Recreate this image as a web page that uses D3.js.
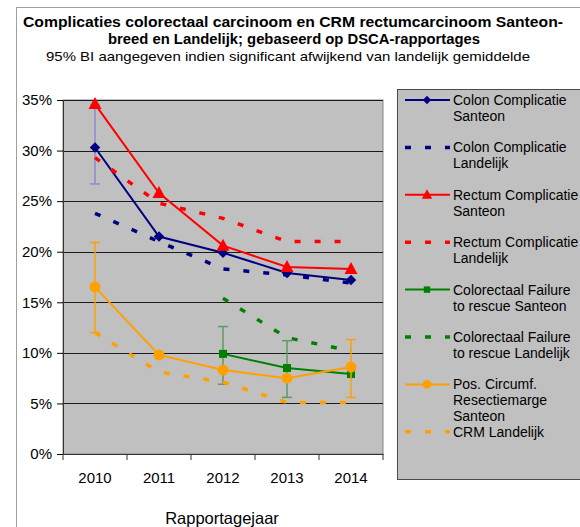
<!DOCTYPE html>
<html>
<head>
<meta charset="utf-8">
<script src="https://cdn.jsdelivr.net/npm/d3@7"></script>
<style>
  body { margin: 0; background: #fff; }
  svg { font-family: "Liberation Sans", Arial, sans-serif; }
</style>
</head>
<body>
<svg id="chart" width="580" height="527"></svg>
<script>
// values in percent
const years = ['2010', '2011', '2012', '2013', '2014'];
const yTicks = [0, 5, 10, 15, 20, 25, 30, 35];

const colonSanteon = [30.3, 21.5, 19.9, 17.9, 17.2];
const colonLandelijk = [23.8, 21.0, 18.3, 17.7, 16.9];
const rectumSanteon = [34.6, 25.8, 20.6, 18.5, 18.3];
const rectumLandelijk = [29.3, 24.8, 23.3, 21.0, 21.0];
const ftrSanteon = [null, null, 9.9, 8.5, 7.9];
const ftrLandelijk = [null, null, 15.4, 11.5, 10.2];
const crmSanteon = [16.5, 9.8, 8.3, 7.5, 8.6];
const crmLandelijk = [12.0, 8.1, 7.1, 5.1, 5.1];

// 95% BI, only where significant
const colonSanteonCI = [[26.7, 34.5], null, null, null, null];
const ftrSanteonCI = [null, null, [6.9, 12.6], [5.6, 11.2], null];
const crmSanteonCI = [[12.0, 20.9], null, null, null, [5.6, 11.3]];

const series = [
  {name: ['Colon Complicatie', 'Santeon'], values: colonSanteon, color: '#000080', marker: 'diamond', ci: colonSanteonCI, ciColor: '#8c8cc8'},
  {name: ['Colon Complicatie', 'Landelijk'], values: colonLandelijk, color: '#000080', dashed: true},
  {name: ['Rectum Complicatie', 'Santeon'], values: rectumSanteon, color: '#ff0000', marker: 'triangle'},
  {name: ['Rectum Complicatie', 'Landelijk'], values: rectumLandelijk, color: '#ff0000', dashed: true},
  {name: ['Colorectaal Failure', 'to rescue Santeon'], values: ftrSanteon, color: '#008000', marker: 'square', ci: ftrSanteonCI, ciColor: '#5f9a5f'},
  {name: ['Colorectaal Failure', 'to rescue Landelijk'], values: ftrLandelijk, color: '#008000', dashed: true},
  {name: ['Pos. Circumf.', 'Resectiemarge', 'Santeon'], values: crmSanteon, color: '#ffa000', marker: 'circle', ci: crmSanteonCI, ciColor: '#ffa000'},
  {name: ['CRM Landelijk'], values: crmLandelijk, color: '#ffa000', dashed: true}
];

const svg = d3.select('#chart');
const plot = {left: 63, top: 100, right: 383, bottom: 454};

// outer chart frame
svg.append('rect')
  .attr('x', 16.5).attr('y', 7.5)
  .attr('width', 600).attr('height', 600)
  .attr('fill', '#fff').attr('stroke', '#a0a0a0');

// titles
const title = svg.append('text').attr('text-anchor', 'middle')
  .style('font-weight', 'bold').style('font-size', '14.5px');
title.append('tspan').attr('x', 293).attr('y', 27)
  .attr('textLength', 540).attr('lengthAdjust', 'spacingAndGlyphs')
  .text('Complicaties colorectaal carcinoom en CRM rectumcarcinoom  Santeon-');
title.append('tspan').attr('x', 294).attr('y', 44)
  .attr('textLength', 372).attr('lengthAdjust', 'spacingAndGlyphs')
  .text('breed en Landelijk; gebaseerd op DSCA-rapportages');
svg.append('text').attr('x', 288).attr('y', 61).attr('text-anchor', 'middle')
  .attr('textLength', 484).attr('lengthAdjust', 'spacingAndGlyphs')
  .style('font-size', '13.5px').text('95% BI aangegeven indien significant afwijkend van landelijk gemiddelde');

const x = d3.scaleBand().domain(years).range([plot.left, plot.right]);
const y = d3.scaleLinear().domain([0, 35]).range([plot.bottom, plot.top]);
const cx = d => x(d) + x.bandwidth() / 2;

// plot area
svg.append('rect')
  .attr('x', plot.left).attr('y', plot.top)
  .attr('width', plot.right - plot.left).attr('height', plot.bottom - plot.top)
  .attr('fill', '#c0c0c0').attr('stroke', '#868686');

svg.append('g').selectAll('line').data(yTicks.filter(t => t > 0))
  .enter().append('line')
  .attr('x1', plot.left).attr('x2', plot.right)
  .attr('y1', d => Math.round(y(d)) + 0.5).attr('y2', d => Math.round(y(d)) + 0.5)
  .attr('stroke', '#1a1a1a');

// axes
const yAxis = d3.axisLeft(y).tickValues(yTicks).tickSize(6).tickPadding(5)
  .tickFormat(d => d + '%');
const gy = svg.append('g').attr('transform', `translate(${plot.left},0)`).call(yAxis);
gy.selectAll('text').style('font-size', '15px').attr('fill', '#000');
gy.select('.domain').attr('stroke', '#333');

const xAxis = d3.axisBottom(x).tickSize(0).tickPadding(18);
const gx = svg.append('g').attr('transform', `translate(0,${plot.bottom})`).call(xAxis);
gx.selectAll('text').style('font-size', '15px').attr('fill', '#000');
gx.select('.domain').attr('stroke', '#333');
gx.selectAll('.edge').data(d3.range(years.length + 1))
  .enter().append('line').attr('class', 'edge')
  .attr('x1', i => plot.left + i * x.step()).attr('x2', i => plot.left + i * x.step())
  .attr('y1', 0).attr('y2', 6).attr('stroke', '#333');

svg.append('text').attr('x', 222).attr('y', 524).attr('text-anchor', 'middle')
  .style('font-size', '16.5px').text('Rapportagejaar');

// markers
function drawMarker(g, type, color) {
  if (type === 'diamond') {
    g.append('path').attr('d', d3.symbol().type(d3.symbolDiamond2).size(70)).attr('fill', color);
  } else if (type === 'triangle') {
    g.append('path').attr('d', 'M0,-7L6.5,5L-6.5,5Z').attr('fill', color);
  } else if (type === 'square') {
    g.append('rect').attr('x', -4).attr('y', -4).attr('width', 8).attr('height', 8).attr('fill', color);
  } else if (type === 'circle') {
    g.append('circle').attr('r', 5.5).attr('fill', color);
  }
}

const line = d3.line()
  .defined(d => d.v != null)
  .x(d => cx(d.year))
  .y(d => y(d.v));

series.forEach(s => {
  const pts = years.map((yr, i) => ({year: yr, v: s.values[i], ci: s.ci ? s.ci[i] : null}));
  const g = svg.append('g');

  if (s.ci) {
    const bars = g.selectAll('.ci').data(pts.filter(d => d.ci)).enter().append('g')
      .attr('stroke', s.ciColor).attr('stroke-width', 1.5);
    bars.append('line').attr('x1', d => cx(d.year)).attr('x2', d => cx(d.year))
      .attr('y1', d => y(d.ci[0])).attr('y2', d => y(d.ci[1]));
    bars.append('line').attr('x1', d => cx(d.year) - 5).attr('x2', d => cx(d.year) + 5)
      .attr('y1', d => y(d.ci[0])).attr('y2', d => y(d.ci[0]));
    bars.append('line').attr('x1', d => cx(d.year) - 5).attr('x2', d => cx(d.year) + 5)
      .attr('y1', d => y(d.ci[1])).attr('y2', d => y(d.ci[1]));
  }

  g.append('path').datum(pts).attr('d', line)
    .attr('fill', 'none').attr('stroke', s.color)
    .attr('stroke-width', s.dashed ? 3.5 : 2)
    .attr('stroke-dasharray', s.dashed ? '6,14' : null);

  if (s.marker) {
    g.selectAll('.mk').data(pts.filter(d => d.v != null)).enter().append('g')
      .attr('transform', d => `translate(${cx(d.year)},${y(d.v)})`)
      .each(function () { drawMarker(d3.select(this), s.marker, s.color); });
  }
});

// legend
const leg = svg.append('g').attr('transform', 'translate(397,89)');
leg.append('rect').attr('x', 0.5).attr('y', 0.5).attr('width', 300).attr('height', 390)
  .attr('fill', '#c0c0c0').attr('stroke', '#4a4a4a');

series.forEach((s, i) => {
  const ly = 11 + i * 47.4;
  const item = leg.append('g').attr('transform', `translate(0,${ly})`);
  item.append('line').attr('x1', 8).attr('x2', 53).attr('y1', 0).attr('y2', 0)
    .attr('stroke', s.color)
    .attr('stroke-width', s.dashed ? 3.5 : 2)
    .attr('stroke-dasharray', s.dashed ? '6,14' : null);
  if (s.marker) {
    const m = item.append('g').attr('transform', 'translate(30,0) scale(0.8)');
    drawMarker(m, s.marker, s.color);
  }
  const t = item.append('text').style('font-size', '14px').attr('fill', '#000');
  s.name.forEach((n, j) => {
    t.append('tspan').attr('x', 56).attr('y', 5 + j * 16).text(n);
  });
});
</script>
</body>
</html>
